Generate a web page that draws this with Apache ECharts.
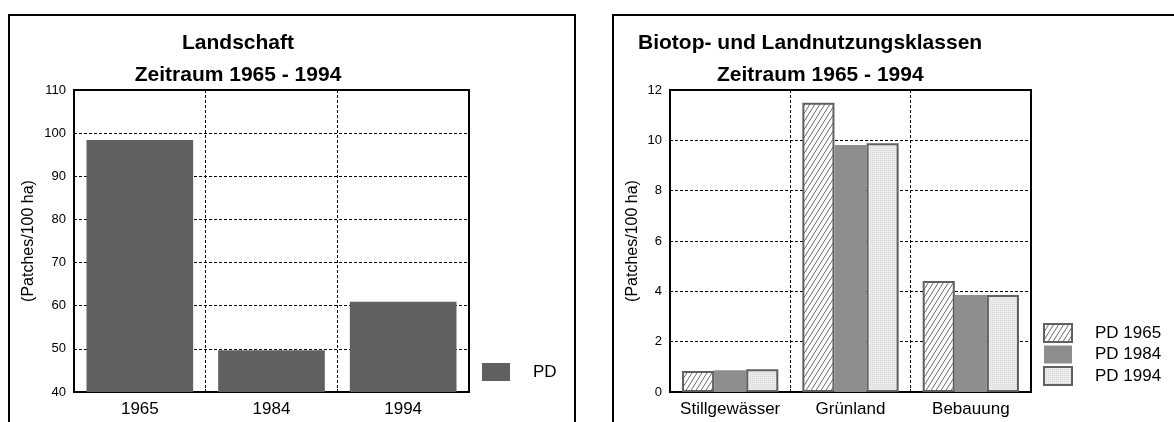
<!DOCTYPE html>
<html>
<head>
<meta charset="utf-8">
<script src="https://cdn.jsdelivr.net/npm/echarts@6/dist/echarts.min.js"></script>
<style>
  html, body { margin: 0; padding: 0; background: #fff; }
  #chart { width: 1174px; height: 422px; }
</style>
</head>
<body>
<div id="chart"></div>
<script>
const FONT = 'Liberation Sans, Arial, sans-serif';

// left chart: Landschaft
const yearsLeft = ['1965', '1984', '1994'];
const pdLandscape = [98.4, 49.7, 60.9];
const leftTicks = { min: 40, max: 110, interval: 10 };

// right chart: Biotop- und Landnutzungsklassen
const classes = ['Stillgewässer', 'Grünland', 'Bebauung'];
const pd1965 = [0.83, 11.49, 4.41];
const pd1984 = [0.86, 9.81, 3.85];
const pd1994 = [0.9, 9.88, 3.85];
const rightTicks = { min: 0, max: 12, interval: 2 };

// fill patterns
const makeHatch = () => {
   let c = document.createElement('canvas');
   let w = 5, h = 8;
   c.width = w; c.height = h;
   let ctx = c.getContext('2d');
   ctx.fillStyle = '#fff';
   ctx.fillRect(0, 0, w, h);
   ctx.strokeStyle = '#5a5a5a';
   ctx.lineWidth = 0.9;
   for (let dx = -w; dx <= w; dx += w) {
      ctx.beginPath();
      ctx.moveTo(dx, h);
      ctx.lineTo(dx + w, 0);
      ctx.stroke();
   }
   return c;
};
const makeDots = () => {
   let c = document.createElement('canvas');
   c.width = 2; c.height = 2;
   let ctx = c.getContext('2d');
   ctx.fillStyle = '#ececec';
   ctx.fillRect(0, 0, 2, 2);
   ctx.fillStyle = '#d6d6d6';
   ctx.fillRect(0, 0, 1, 1);
   return c;
};

const chart = echarts.init(document.getElementById('chart'));

const dashed = { show: true, interval: 0, lineStyle: { color: '#000', type: [3, 2], width: 1 } };
const yLabel = (size) => ({ color: '#000', fontSize: size, fontFamily: FONT, margin: 8 });
const xLabel = { color: '#000', fontSize: 17, fontFamily: FONT, margin: 9, interval: 0, hideOverlap: false };
const legendText = { color: '#000', fontSize: 17, fontFamily: FONT, padding: [0, 0, 0, 18], lineHeight: 18 };
const titleText = { fontSize: 21, fontWeight: 'bold', fontFamily: FONT, color: '#000', lineHeight: 32 };

let option = {
   animation: false,
   backgroundColor: '#fff',
   graphic: [
      { type: 'rect', shape: { x: 9, y: 15, width: 566, height: 430 }, style: { fill: 'none', stroke: '#000', lineWidth: 2 }, z: 0 },
      { type: 'rect', shape: { x: 613, y: 15, width: 600, height: 430 }, style: { fill: 'none', stroke: '#000', lineWidth: 2 }, z: 0 }
   ],
   title: [
      {
         text: 'Landschaft\nZeitraum 1965 - 1994',
         left: 238, top: 27, textAlign: 'center', padding: 0,
         textStyle: titleText
      },
      {
         text: 'Biotop- und Landnutzungsklassen',
         left: 638, top: 27, padding: 0,
         textStyle: titleText
      },
      {
         text: 'Zeitraum 1965 - 1994',
         left: 717, top: 59, padding: 0,
         textStyle: titleText
      }
   ],
   legend: [
      {
         data: ['PD'], orient: 'vertical', left: 482, top: 363, padding: 0,
         icon: 'rect', itemWidth: 28, itemHeight: 18, itemGap: 2,
         textStyle: legendText, selectedMode: false
      },
      {
         data: ['PD 1965', 'PD 1984', 'PD 1994'], orient: 'vertical', left: 1043, top: 323, padding: 0,
         icon: 'rect', itemWidth: 28, itemHeight: 18, itemGap: 2.5,
         textStyle: legendText, selectedMode: false
      }
   ],
   grid: [
      { left: 74, right: 705, top: 90, bottom: 30, show: true, borderColor: '#000', borderWidth: 2, backgroundColor: 'transparent' },
      { left: 670, right: 143, top: 90, bottom: 30, show: true, borderColor: '#000', borderWidth: 2, backgroundColor: 'transparent' }
   ],
   xAxis: [
      {
         type: 'category', gridIndex: 0, data: yearsLeft,
         axisLine: { lineStyle: { color: '#000', width: 2 } },
         axisTick: { show: true, inside: true, length: 3, interval: 0, lineStyle: { color: '#000' } },
         axisLabel: xLabel,
         splitLine: dashed
      },
      {
         type: 'category', gridIndex: 1, data: classes,
         axisLine: { lineStyle: { color: '#000', width: 2 } },
         axisTick: { show: true, inside: true, length: 3, interval: 0, lineStyle: { color: '#000' } },
         axisLabel: xLabel,
         splitLine: dashed
      }
   ],
   yAxis: [
      {
         type: 'value', gridIndex: 0, min: leftTicks.min, max: leftTicks.max, interval: leftTicks.interval,
         name: '(Patches/100 ha)', nameLocation: 'middle', nameGap: 37,
         nameTextStyle: { color: '#000', fontSize: 16, fontFamily: FONT },
         axisLine: { show: true, lineStyle: { color: '#000', width: 2 } },
         axisTick: { show: true, inside: true, length: 3, lineStyle: { color: '#000' } },
         axisLabel: yLabel(13),
         splitLine: dashed
      },
      {
         type: 'value', gridIndex: 1, min: rightTicks.min, max: rightTicks.max, interval: rightTicks.interval,
         name: '(Patches/100 ha)', nameLocation: 'middle', nameGap: 29,
         nameTextStyle: { color: '#000', fontSize: 16, fontFamily: FONT },
         axisLine: { show: true, lineStyle: { color: '#000', width: 2 } },
         axisTick: { show: true, inside: true, length: 3, lineStyle: { color: '#000' } },
         axisLabel: yLabel(13),
         splitLine: dashed
      }
   ],
   series: [
      {
         name: 'PD', type: 'bar', xAxisIndex: 0, yAxisIndex: 0,
         data: pdLandscape, barCategoryGap: '19%',
         itemStyle: { color: '#606060' }
      },
      {
         name: 'PD 1965', type: 'bar', xAxisIndex: 1, yAxisIndex: 1,
         data: pd1965, barGap: 0, barCategoryGap: '20%',
         itemStyle: { color: { image: makeHatch(), repeat: 'repeat' }, borderColor: '#606060', borderWidth: 2 }
      },
      {
         name: 'PD 1984', type: 'bar', xAxisIndex: 1, yAxisIndex: 1,
         data: pd1984, barGap: 0, barCategoryGap: '20%',
         itemStyle: { color: '#8e8e8e' }
      },
      {
         name: 'PD 1994', type: 'bar', xAxisIndex: 1, yAxisIndex: 1,
         data: pd1994, barGap: 0, barCategoryGap: '20%',
         itemStyle: { color: { image: makeDots(), repeat: 'repeat' }, borderColor: '#606060', borderWidth: 2 }
      }
   ]
};
chart.setOption(option);
</script>
</body>
</html>
